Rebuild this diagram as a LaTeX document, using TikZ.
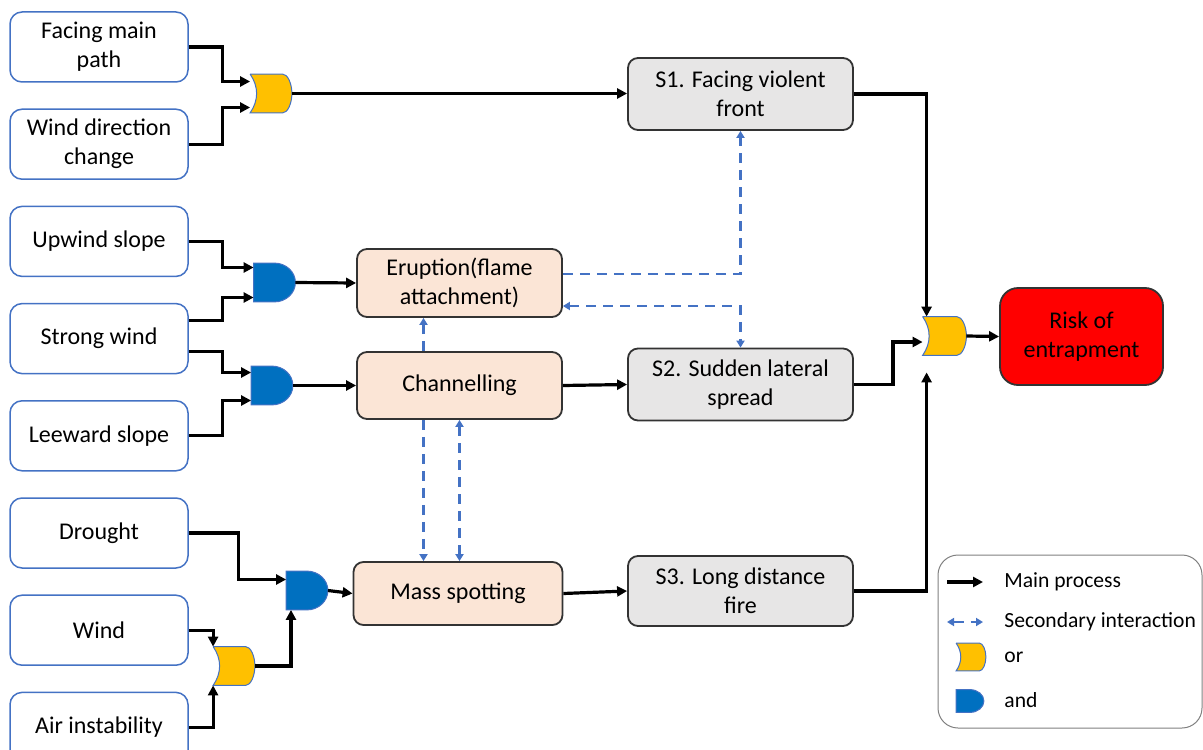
\documentclass[tikz,border=0pt]{standalone}
\usepackage{fontspec}
\setmainfont{Carlito}
\usetikzlibrary{positioning,arrows.meta,calc}
\definecolor{inblue}{HTML}{4472C4}
\definecolor{orgold}{HTML}{FFC000}
\definecolor{andblue}{HTML}{0070C0}
\definecolor{procpeach}{HTML}{FBE5D6}
\definecolor{stategray}{HTML}{E7E6E6}
\definecolor{riskred}{HTML}{FF0000}
\definecolor{secblue}{HTML}{4472C4}

\begin{document}
\begin{tikzpicture}[
x=0.5pt, y=-0.5pt,
font=\fontsize{12}{14.5}\selectfont,
inbox/.style={draw=inblue, line width=0.75pt, rounded corners=6pt, fill=white, align=center, minimum width=89pt, minimum height=35pt, inner sep=2pt},
procbox/.style={draw=black!80, line width=0.9pt, rounded corners=5pt, fill=procpeach, align=center, minimum width=102.5pt, minimum height=34pt},
statebox/.style={draw=black!80, line width=0.9pt, rounded corners=5pt, fill=stategray, align=center, minimum width=112.5pt, minimum height=36pt},
riskbox/.style={draw=black!80, line width=0.9pt, rounded corners=9pt, fill=riskred, align=center, minimum width=81.5pt, minimum height=48.5pt},
legendbox/.style={draw=black!50, line width=0.5pt, rounded corners=10pt, minimum width=132pt, minimum height=86.5pt},
gate/.style={minimum width=20.5pt, minimum height=19pt, inner sep=0pt},
orshape/.style={fill=orgold, draw=inblue, line width=0.5pt},
andshape/.style={fill=andblue, draw=inblue, line width=0.5pt},
arrow/.style={-{Triangle[length=5pt,width=5pt]}, line width=1.6pt},
secline/.style={secblue, line width=1.2pt, dash pattern=on 5pt off 3.5pt},
secarrow/.style={secline, -{Triangle[length=3.5pt,width=4pt]}},
secboth/.style={secline, {Triangle[length=3.5pt,width=4pt]}-{Triangle[length=3.5pt,width=4pt]}},
lgtext/.style={anchor=west, inner sep=0pt, font=\fontsize{10.8}{13}\selectfont},
node distance=12.85pt
]
\useasboundingbox (0,0) rectangle (1203,749);

\node[inbox] (fmp) at (99,47) {Facing main\\path};
\node[inbox, below=of fmp] (wdc) {Wind direction\\change};
\node[inbox, below=of wdc] (ups) {Upwind slope};
\node[inbox, below=of ups] (stw) {Strong wind};
\node[inbox, below=of stw] (lws) {Leeward slope};
\node[inbox, below=of lws] (drt) {Drought};
\node[inbox, below=of drt] (wnd) {Wind};
\node[inbox, below=of wnd] (ain) {Air instability};

\node[gate] (or1) at (271,93.5) {};
\node[gate] (and1) at (274.5,282.5) {};
\node[gate] (and2) at (272,385.5) {};
\node[gate] (and3) at (307,590.5) {};
\node[gate] (or2) at (234,666) {};
\node[gate, minimum width=21.5pt] (or3) at (944.5,336) {};

\node[procbox] (eru) at (459.5,283) {Eruption(flame\\attachment)};
\node[procbox, minimum height=33.5pt] (chn) at (459.5,385.5) {Channelling};
\node[procbox, minimum width=104.5pt, minimum height=31.5pt] (msp) at (458,593.5) {Mass spotting};

\node[statebox] (s1) at (740.5,94) {S1. Facing violent\\front};
\node[statebox] (s2) at (740.5,384.5) {S2. Sudden lateral\\spread};
\node[statebox, minimum height=35pt] (s3) at (740.5,591) {S3. Long distance\\fire};

\node[riskbox] (risk) at (1081.5,336.5) {Risk of\\entrapment};

\node[legendbox] (lgd) at (1070,641.5) {};
\node[lgtext] (lmain) at (1004,582) {Main process};
\node[lgtext] (lsec) at (1004,622) {Secondary interaction};
\node[lgtext] (lort) at (1004,657) {or};
\node[lgtext] (landt) at (1004,700) {and};
\node[gate, minimum width=14.5pt, minimum height=13.5pt] (lorg) at (971,657) {};
\node[gate, minimum width=13.5pt, minimum height=11pt] (landg) at (970,701) {};

\foreach \g in {or1,or2,or3,lorg} {
  \draw[orshape] (\g.north west) -- ($(\g.north west)!0.78!(\g.north east)$)
    .. controls ($(\g.north west)!0.9!(\g.north east)$) and ($(\g.north east)!0.5!(\g.east)$) .. (\g.east)
    .. controls ($(\g.south east)!0.5!(\g.east)$) and ($(\g.south west)!0.9!(\g.south east)$) .. ($(\g.south west)!0.78!(\g.south east)$)
    -- (\g.south west) to[bend right=35] (\g.north west);
}
\foreach \g in {and1,and2,and3,landg} {
  \draw[andshape] (\g.north west) -- ($(\g.north west)!0.5!(\g.north east)$)
    .. controls ($(\g.north west)!0.775!(\g.north east)$) and ($(\g.north east)!0.45!(\g.east)$) .. (\g.east)
    .. controls ($(\g.south east)!0.45!(\g.east)$) and ($(\g.south west)!0.775!(\g.south east)$) .. ($(\g.south west)!0.5!(\g.south east)$)
    -- (\g.south west) -- cycle;
}

\draw[arrow] (fmp.east) -- ++(34,0) |- ([yshift=6pt]or1.west);
\draw[arrow] (wdc.east) -- ++(34,0) |- ([yshift=-7pt]or1.west);
\draw[arrow] (or1.east) -- (or1.east -| s1.west);
\draw[arrow] (ups.east) -- ++(34,0) |- ([yshift=7.5pt]and1.west);
\draw[arrow] ([yshift=9pt]stw.east) -- ++(34,0) |- ([yshift=-7.5pt]and1.west);
\draw[arrow] ([yshift=-6.5pt]stw.east) -- ++(34,0) |- ([yshift=6.5pt]and2.west);
\draw[arrow] (lws.east) -- ++(34,0) |- ([yshift=-7.5pt]and2.west);
\draw[arrow] (and1.east) -- (eru.west);
\draw[arrow] (and2.east) -- (chn.west);
\draw[arrow] (drt.east) -- ++(50,0) |- ([yshift=5.5pt]and3.west);
\draw[arrow] (wnd.east) -| (or2.north west);
\draw[arrow] (ain.east) -| (or2.south west);
\draw[arrow] (or2.east) -| ([xshift=-8pt]and3.south);
\draw[arrow] (and3.east) -- (msp.west);
\draw[arrow] (chn.east) -- (s2.west);
\draw[arrow] (msp.east) -- (s3.west);
\draw[arrow] (s1.east) -| ([xshift=2pt]or3.north west);
\draw[arrow] (s2.east) -- ++(39,0) |- ([yshift=-3pt]or3.west);
\draw[arrow] (s3.east) -| ([xshift=2pt,yshift=-8.5pt]or3.south west);
\draw[arrow] (or3.east) -- (risk.west);

\draw[secarrow] ([yshift=4.5pt]eru.east) -| (s1.south);
\draw[secboth] ([yshift=-11.5pt]eru.east) -| (s2.north);
\draw[secarrow] ([xshift=-18pt]chn.north) -- ([xshift=-18pt]chn.north |- eru.south);
\draw[secarrow] ([xshift=-18pt]chn.south) -- ([xshift=-18pt]chn.south |- msp.north);
\draw[secboth] (chn.south) -- (chn.south |- msp.north);

\draw[arrow] ([xshift=-28.5pt]lmain.west) -- ([xshift=-10.5pt]lmain.west);
\draw[secboth] ([xshift=-28.5pt]lsec.west) -- ([xshift=-10.5pt]lsec.west);
\end{tikzpicture}
\end{document}
